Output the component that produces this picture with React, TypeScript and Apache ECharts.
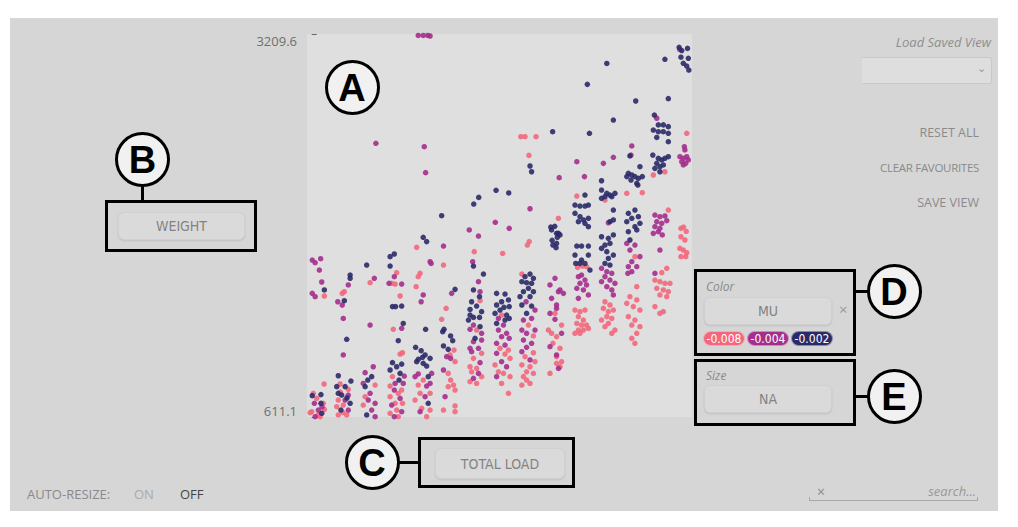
import React, { useEffect, useRef } from "react";
import * as echarts from "echarts";

// ---- data: x = total load (column position incl. jitter), y = weight ----
const yTicks = [611.1, 3209.6];
const colorLabels = ["-0.008", "-0.004", "-0.002"];
const palette = ["#f3677c", "#a52e8d", "#2b2a68"];

const pinkPts = [
  [0.29,1432],[0.28,835],[-0.13,772],[0.0,738],[0.25,704],[-0.19,647],[0.29,663],[0.13,613],[-0.25,640],[0.05,625],
  [1.05,1461],[0.97,1450],[0.89,835],[1.2,799],[0.82,726],[0.76,681],[1.01,692],[0.82,625],[1.14,625],[0.76,602],[1.0,640],[0.9,780],
  [2.03,1522],[2.22,828],[1.84,749],[1.77,692],[2.09,609],
  [3.04,1590],[2.85,1518],[2.98,1513],[3.17,1432],[2.91,1206],[3.26,1047],[3.17,1038],[2.88,885],[2.79,821],[3.23,794],[3.1,772],[2.79,749],[2.98,704],[3.26,704],[3.04,658],[2.79,636],[3.1,613],
  [3.8,1762],[3.93,1586],[3.86,1563],[3.78,1495],[4.05,862],[3.86,828],[4.31,772],[3.93,772],[3.74,726],[3.99,670],[4.31,658],[4.18,613],
  [4.82,1642],[4.92,1348],[4.75,1274],[5.22,1065],[5.07,1032],[5.26,986],[5.0,907],[5.09,862],[5.2,828],[5.0,817],[5.26,794],[5.26,686],[4.82,658],[5.26,647],
  [5.99,1733],[6.21,1400],[6.08,1201],[6.27,1043],[5.96,1009],[5.83,952],[6.08,941],[5.89,918],[6.27,885],[6.08,839],[5.83,851],
  [7.07,1721],[7.03,1303],[6.97,1077],[7.29,1065],[7.16,1038],[7.35,1009],[6.78,964],[6.91,918],[7.1,907],[7.35,885],[7.03,839],[7.29,772],
  [8.08,1801],[8.01,1778],[7.8,1581],[8.05,1235],[8.24,1161],[8.24,1047],[7.92,1020],[8.3,986],[7.8,964],[8.11,952],[7.98,918],[8.24,907],[7.86,885],[8.11,839],[7.8,828],[7.98,862],[7.76,2513],[7.92,2513],[8.34,2513],[8.07,2386],
  [9.31,1235],[9.12,1156],[9.25,1077],[9.12,1020],[9.31,986],[9.25,952],[9.12,975],[9.06,1314],[8.81,1201],[8.93,1179],[8.98,1111],[8.87,907],[9.19,1959],
  [9.92,1626],[10.1,1635],[10.26,1631],[9.82,1337],[10.01,1326],[10.2,1337],[9.95,1292],[10.14,1269],[9.89,1246],[10.07,1235],[10.26,1235],[10.33,1212],[9.95,1201],[10.14,1201],[9.82,1179],[10.01,1179],[9.89,2110],
  [10.96,1393],[11.15,1371],[10.9,1348],[11.09,1326],[11.28,1337],[11.03,1292],[11.22,1280],[10.83,1269],[11.09,1246],[10.96,1224],[11.34,1201],[11.22,1179],[10.96,2083],
  [12.1,1699],[12.17,1495],[11.91,1427],[12.17,1405],[11.79,1382],[12.04,1360],[12.29,1337],[11.85,1292],[12.1,1269],[11.98,1235],[12.29,1224],[12.17,1179],[11.98,1145],[12.1,1111],[12.38,2133],[11.79,2129],
  [13.12,1590],[13.31,1620],[12.86,1540],[13.05,1529],[13.24,1518],[13.43,1518],[12.93,1484],[13.18,1473],[13.37,1461],[13.05,1439],[13.31,1427],[12.86,1360],[13.18,1326],[13.05,1314],[13.24,2275],[12.8,2253],[13.37,2015],
  [14.07,2536],[13.85,1891],[13.85,1834],[14.0,1812],[13.81,1755],[13.94,1744],[14.07,1726],[13.85,1699],[14.03,1699],[13.95,1900],[14.05,1870],
];

const magentaPts = [
  [-0.17,1676],[-0.06,1658],[0.15,1685],[0.1,1608],[0.19,1527],[-0.17,1450],[-0.06,1427],[-0.09,704],[0.06,658],[-0.06,613],[0.2,680],
  [1.2,1507],[0.8,1393],[0.97,1371],[1.01,1280],[1.01,1032],[1.2,760],[1.08,726],[1.2,658],[1.33,602],
  [2.19,1552],[2.03,1235],[2.15,952],[1.84,912],[1.77,839],[2.03,772],[1.96,726],[2.22,704],[2.09,658],[2.22,613],[2.25,2468],
  [2.95,1563],[2.75,1518],[3.23,1513],[3.23,1213],[3.33,889],[2.98,839],[3.29,839],[2.95,794],[3.17,738],[2.85,692],[3.23,647],[2.95,613],
  [4.31,1665],[4.35,1653],[4.05,1439],[3.97,1393],[4.37,907],[3.86,903],[3.74,885],[4.31,839],[4.18,821],[4.12,749],[3.93,647],[4.09,2445],[4.14,2269],[3.86,3200],[4.05,3200],[4.22,3200],[4.31,3196],
  [4.82,1771],[5.13,1450],[4.94,1020],[5.09,1009],[4.82,930],[4.88,749],
  [5.8,1880],[6.15,1839],[5.93,1665],[6.15,1529],[6.21,1461],[5.96,1235],[5.83,1206],[6.27,1179],[5.96,1122],[6.27,1133],[5.83,1077],[6.15,1077],[5.89,1054],[6.21,980],[6.15,907],[5.96,873],
  [6.91,1280],[7.1,1235],[6.91,1201],[7.22,1179],[7.03,1156],[7.32,1145],[6.84,1111],[7.16,1099],[6.84,1043],[7.03,986],[7.22,952],[6.84,885],[6.79,1932],[7.32,1891],
  [7.96,1393],[8.3,1337],[8.17,1280],[7.86,1269],[7.8,1201],[8.3,1201],[7.98,1179],[7.86,1133],[8.17,1111],[7.98,1084],[7.8,1054],[8.11,998],[8.11,2024],
  [9.06,1552],[9.25,1473],[9.38,1450],[9.12,1348],[9.31,1179],[8.87,1507],[9.19,1461],[8.93,1416],[9.12,1371],[8.87,1314],[9.06,1274],[8.87,1088],[9.12,1032],[9.19,941],[9.22,2235],
  [10.07,1574],[9.95,1563],[10.2,1540],[10.01,1518],[10.26,1507],[9.89,1484],[10.14,1473],[10.33,1439],[9.95,1416],[9.89,2343],[10.18,2242],
  [10.83,1620],[11.03,1597],[11.22,1586],[10.96,1563],[11.15,1540],[10.83,1529],[11.34,1518],[11.03,1495],[11.22,1473],[11.28,1439],[10.9,2332],[11.28,2373],[11.09,1929],
  [11.79,1789],[12.1,1778],[11.91,1744],[12.29,1699],[11.98,1665],[11.85,1631],[12.17,1631],[11.98,1597],[11.83,1586],[11.98,2450],[11.95,2388],
  [12.8,1857],[12.99,1868],[13.14,1846],[13.05,1744],[12.86,1586],[12.93,2638],[12.86,1981],[13.05,1970],[13.24,1975],[12.93,1936],[13.12,1925],[13.31,1943],[12.86,1902],[13.05,1891],
  [13.8,3105],[13.98,2445],[14.0,2423],[13.81,2377],[13.94,2366],[14.07,2377],[13.88,2343],[14.03,2332],[14.13,2355],[13.94,2321],
];

const navyPts = [
  [0.29,1473],[-0.17,756],[0.16,763],[0.16,704],[0.19,636],
  [1.27,1574],[1.27,1552],[1.05,1400],[1.14,1138],[0.82,891],[1.3,855],[0.76,817],[1.08,817],[0.82,772],[0.95,760],[1.27,704],[0.92,658],[1.15,740],
  [1.9,1642],[2.09,885],[1.94,862],[1.84,817],[1.9,625],
  [2.95,1717],[2.79,1699],[2.79,1635],[2.88,1360],[3.0,1360],[3.23,1364],[3.29,1246],[3.1,1129],[2.88,980],[3.23,970],[3.04,952],[2.79,930],[3.17,907],[3.13,862],
  [4.05,1830],[4.18,1801],[4.14,1206],[3.76,1084],[3.97,1061],[4.12,1032],[4.02,1016],[3.86,1002],[4.31,1009],[4.05,975],[4.18,957],[3.8,986],[4.24,885],[4.24,704],
  [5.26,1477],[4.84,1206],[4.79,1190],[5.09,1161],[5.17,1129],[4.82,1093],[5.0,1070],[4.75,1977],
  [5.96,1635],[6.34,1581],[5.96,1473],[6.19,1427],[5.89,1393],[6.08,1364],[5.83,1341],[6.27,1326],[5.83,1303],[5.96,1287],[6.19,1287],[5.77,1269],[6.21,1224],[6.02,1145],[6.16,2101],[5.97,2056],
  [6.84,1450],[7.16,1445],[7.29,1405],[7.03,1393],[6.84,1371],[7.12,1355],[7.32,1360],[6.97,1337],[6.78,1314],[7.22,1303],[7.16,1269],[7.32,1280],[6.84,1246],[6.82,2149],[7.3,2131],
  [7.92,1563],[8.11,1581],[8.24,1552],[7.8,1529],[7.98,1522],[8.17,1518],[8.05,1484],[8.24,1461],[7.86,1461],[7.73,1427],[8.11,1427],[7.8,1371],[8.17,1364],[7.98,1314],[8.11,2314],[8.17,2275],
  [9.12,1857],[9.25,1846],[9.12,1789],[8.93,1880],[9.19,1857],[8.98,1778],[8.9,1900],[9.05,1905],[9.15,1830],[8.95,1810],[9.1,1760],[8.97,2547],
  [9.89,1771],[10.07,1771],[10.33,1771],[9.82,1710],[10.33,1710],[10.07,1676],[9.85,1653],[10.01,1653],[10.2,1653],[10.39,1608],[10.29,2868],[10.37,2536],[10.2,2117],[9.82,2049],[10.01,2042],[10.2,2042],[10.33,2049],[9.82,1993],[10.01,1970],[10.14,1948],[10.33,1959],[9.95,1936],[10.2,1925],[10.33,1902],
  [10.83,1834],[11.09,1823],[11.28,1846],[10.96,1778],[11.15,1789],[10.83,1755],[11.03,1733],[11.28,1710],[11.09,1687],[10.96,1653],[11.15,1642],[11.03,3010],[11.28,2626],[10.83,2214],[10.83,2151],[11.03,2129],[11.15,2117],[11.34,2129],[10.96,2106],[11.22,2106],[10.83,2095],[11.28,2015],[11.28,1948],[11.15,1936],
  [11.85,1868],[12.17,1880],[11.91,1812],[12.13,2755],[11.91,2382],[12.29,2309],[11.85,2264],[11.98,2253],[12.1,2242],[11.79,2242],[12.23,2230],[12.38,2242],[11.95,2219],[12.17,2196],[12.21,2185],[11.85,1993],[12.1,2015],[11.98,1959],[12.23,1970],[11.79,1936],[12.29,1925],[12.1,1902],
  [13.24,3038],[13.37,2771],[12.84,2660],[12.99,2593],[13.18,2593],[13.37,2581],[12.8,2558],[12.99,2547],[13.18,2547],[13.37,2536],[12.93,2508],[13.37,2479],[12.78,2388],[13.37,2377],[12.99,2366],[13.12,2355],[13.24,2366],[12.93,2332],[13.05,2309],[13.18,2321],[12.86,2298],[13.05,2275],
  [13.78,3119],[13.88,3097],[14.1,3112],[13.85,3052],[14.13,3045],[13.94,3011],[14.07,2992],[14.15,2965],
];

const UI_FONT = '"Open Sans", "Noto Sans", sans-serif';
const BTN_FONT = '"Liberation Sans Narrow", "DejaVu Sans Condensed", "DejaVu Sans", sans-serif';

function Txt(props: { x: number; y: number; right?: boolean; children: any; style?: any }) {
  const { x, y, right, children, style } = props;
  const pos: any = right ? { right: 1018 - x } : { left: x };
  return (
    <div
      style={{
        position: "absolute",
        top: y - 10,
        height: 20,
        lineHeight: "20px",
        whiteSpace: "nowrap",
        fontFamily: UI_FONT,
        fontSize: 12.5,
        color: "#8a8a8a",
        ...pos,
        ...style,
      }}
    >
      {children}
    </div>
  );
}

function Badge(props: { cx: number; cy: number; letter: string }) {
  const r = 27.5;
  return (
    <div
      style={{
        position: "absolute",
        left: props.cx - r,
        top: props.cy - r,
        width: 2 * r,
        height: 2 * r,
        boxSizing: "border-box",
        border: "3px solid #000",
        borderRadius: "50%",
        background: "#f1f1f1",
        display: "flex",
        alignItems: "center",
        justifyContent: "center",
        fontFamily: '"Liberation Sans", Arial, sans-serif',
        fontWeight: 700,
        fontSize: 38,
        lineHeight: 1,
        color: "#000",
      }}
    >
      <span style={{ marginTop: 2 }}>{props.letter}</span>
    </div>
  );
}

function Box(props: { x: number; y: number; w: number; h: number }) {
  return (
    <div
      style={{
        position: "absolute",
        left: props.x,
        top: props.y,
        width: props.w,
        height: props.h,
        boxSizing: "border-box",
        border: "3px solid #000",
      }}
    />
  );
}

function Bar(props: { x: number; y: number; w: number; h: number }) {
  return <div style={{ position: "absolute", left: props.x, top: props.y, width: props.w, height: props.h, background: "#000" }} />;
}

function Button(props: { x: number; y: number; w: number; h: number; label: string }) {
  return (
    <div
      style={{
        position: "absolute",
        left: props.x,
        top: props.y,
        width: props.w,
        height: props.h,
        boxSizing: "border-box",
        borderRadius: 6,
        background: "#dadada",
        border: "1px solid #d0d0d0",
        boxShadow: "0 1px 2px rgba(0,0,0,0.10)",
        display: "flex",
        alignItems: "center",
        justifyContent: "center",
        fontFamily: BTN_FONT,
        fontSize: 14,
        color: "#828282",
      }}
    >
      {props.label}
    </div>
  );
}

function Chip(props: { x: number; label: string; color: string }) {
  return (
    <div
      style={{
        position: "absolute",
        left: props.x,
        top: 331,
        width: 42,
        height: 15,
        boxSizing: "border-box",
        borderRadius: 8,
        background: props.color,
        border: "1px solid rgba(255,255,255,0.45)",
        display: "flex",
        alignItems: "center",
        justifyContent: "center",
        fontFamily: BTN_FONT,
        fontSize: 12,
        color: "#fff",
      }}
    >
      {props.label}
    </div>
  );
}

export default function App() {
  const ref = useRef<HTMLDivElement>(null);

  useEffect(() => {
    const chart = echarts.init(ref.current as HTMLDivElement, null, { renderer: "svg" });
    const sets = [pinkPts, magentaPts, navyPts];
    chart.setOption({
      animation: false,
      backgroundColor: "transparent",
      grid: { left: 307, top: 34, width: 385, height: 383, show: true, backgroundColor: "#dfdfdf", borderWidth: 0 },
      xAxis: { type: "value", min: -0.37, max: 14.27, show: false },
      yAxis: {
        type: "value",
        min: yTicks[0],
        max: yTicks[1],
        offset: 3,
        splitLine: { show: false },
        axisLine: { show: false },
        axisTick: { show: true, length: 5, lineStyle: { color: "#666" }, customValues: yTicks },
        axisLabel: {
          customValues: yTicks,
          formatter: (v: number) => v.toFixed(1),
          margin: 7,
          color: "#6f6f6f",
          fontSize: 13,
          fontFamily: "Open Sans",
          verticalAlignMinLabel: "bottom",
          verticalAlignMaxLabel: "top",
        },
      },
      series: sets.map((d, i) => ({
        type: "scatter",
        name: colorLabels[i],
        data: d,
        symbolSize: 5.5,
        silent: true,
        itemStyle: { color: palette[i], opacity: 0.9 },
      })),
    });
    return () => chart.dispose();
  }, []);

  return (
    <div style={{ position: "fixed", left: 0, top: 0, width: 1018, height: 527, background: "#fff", overflow: "hidden" }}>
      <div style={{ position: "absolute", left: 10, top: 18, width: 988, height: 493, background: "#d6d6d6" }} />
      <div ref={ref} style={{ position: "absolute", left: 0, top: 0, width: 1018, height: 527 }} />

      {/* top-right controls */}
      <Txt x={991} y={42} right style={{ fontStyle: "italic", fontSize: 13, color: "#8e8e8e" }}>Load Saved View</Txt>
      <div
        style={{
          position: "absolute",
          left: 862,
          top: 57,
          width: 130,
          height: 27,
          boxSizing: "border-box",
          background: "#dedede",
          border: "1px solid #c9c9c9",
          borderLeft: "none",
          borderRadius: "0 3px 3px 0",
        }}
      />
      <Txt x={986} y={68} right style={{ fontSize: 11, color: "#999" }}>⌄</Txt>
      <Txt x={979} y={133} right>RESET ALL</Txt>
      <Txt x={979} y={168} right style={{ fontSize: 11.5, letterSpacing: -0.3 }}>CLEAR FAVOURITES</Txt>
      <Txt x={979} y={203} right>SAVE VIEW</Txt>

      {/* bottom-left */}
      <Txt x={27} y={494} style={{ fontSize: 13, color: "#8a8a8a" }}>AUTO-RESIZE:</Txt>
      <Txt x={134} y={494} style={{ fontSize: 13, color: "#aaaaaa" }}>ON</Txt>
      <Txt x={180} y={494} style={{ fontSize: 13, color: "#444" }}>OFF</Txt>

      {/* search */}
      <Txt x={817} y={492} style={{ fontSize: 14, color: "#8a8a8a" }}>×</Txt>
      <Txt x={976} y={491} right style={{ fontStyle: "italic", fontSize: 13, color: "#999" }}>search...</Txt>
      <div style={{ position: "absolute", left: 809, top: 497, width: 169, height: 4, boxSizing: "border-box", border: "1px solid #a8a8a8", borderTop: "none" }} />

      {/* A */}
      <Badge cx={352} cy={87} letter="A" />

      {/* B */}
      <Badge cx={142.5} cy={159} letter="B" />
      <Bar x={141} y={186} w={3} h={15} />
      <Box x={105} y={200} w={152} h={52} />
      <Button x={118} y={212} w={127} h={28} label="WEIGHT" />

      {/* C */}
      <Badge cx={372} cy={462} letter="C" />
      <Bar x={399} y={461} w={20} h={3} />
      <Box x={418} y={437} w={157} h={51} />
      <Button x={435} y={448} w={130} h={31} label="TOTAL LOAD" />

      {/* D */}
      <Box x={694} y={269} w={162} h={87} />
      <Bar x={855} y={290} w={13} h={3} />
      <Badge cx={894} cy={291} letter="D" />
      <Txt x={706} y={287} style={{ fontStyle: "italic", fontSize: 12, color: "#8a8a8a" }}>Color</Txt>
      <Button x={704} y={297} w={128} h={28} label="MU" />
      <Txt x={839} y={309} style={{ fontSize: 15, color: "#9a9a9a" }}>×</Txt>
      <Chip x={703} label={colorLabels[0]} color={palette[0]} />
      <Chip x={747} label={colorLabels[1]} color={palette[1]} />
      <Chip x={791} label={colorLabels[2]} color={palette[2]} />

      {/* E */}
      <Box x={694} y={359} w={162} h={67} />
      <Bar x={855} y={395} w={13} h={3} />
      <Badge cx={894} cy={396} letter="E" />
      <Txt x={706} y={376} style={{ fontStyle: "italic", fontSize: 12, color: "#8a8a8a" }}>Size</Txt>
      <Button x={704} y={385} w={128} h={28} label="NA" />
    </div>
  );
}
